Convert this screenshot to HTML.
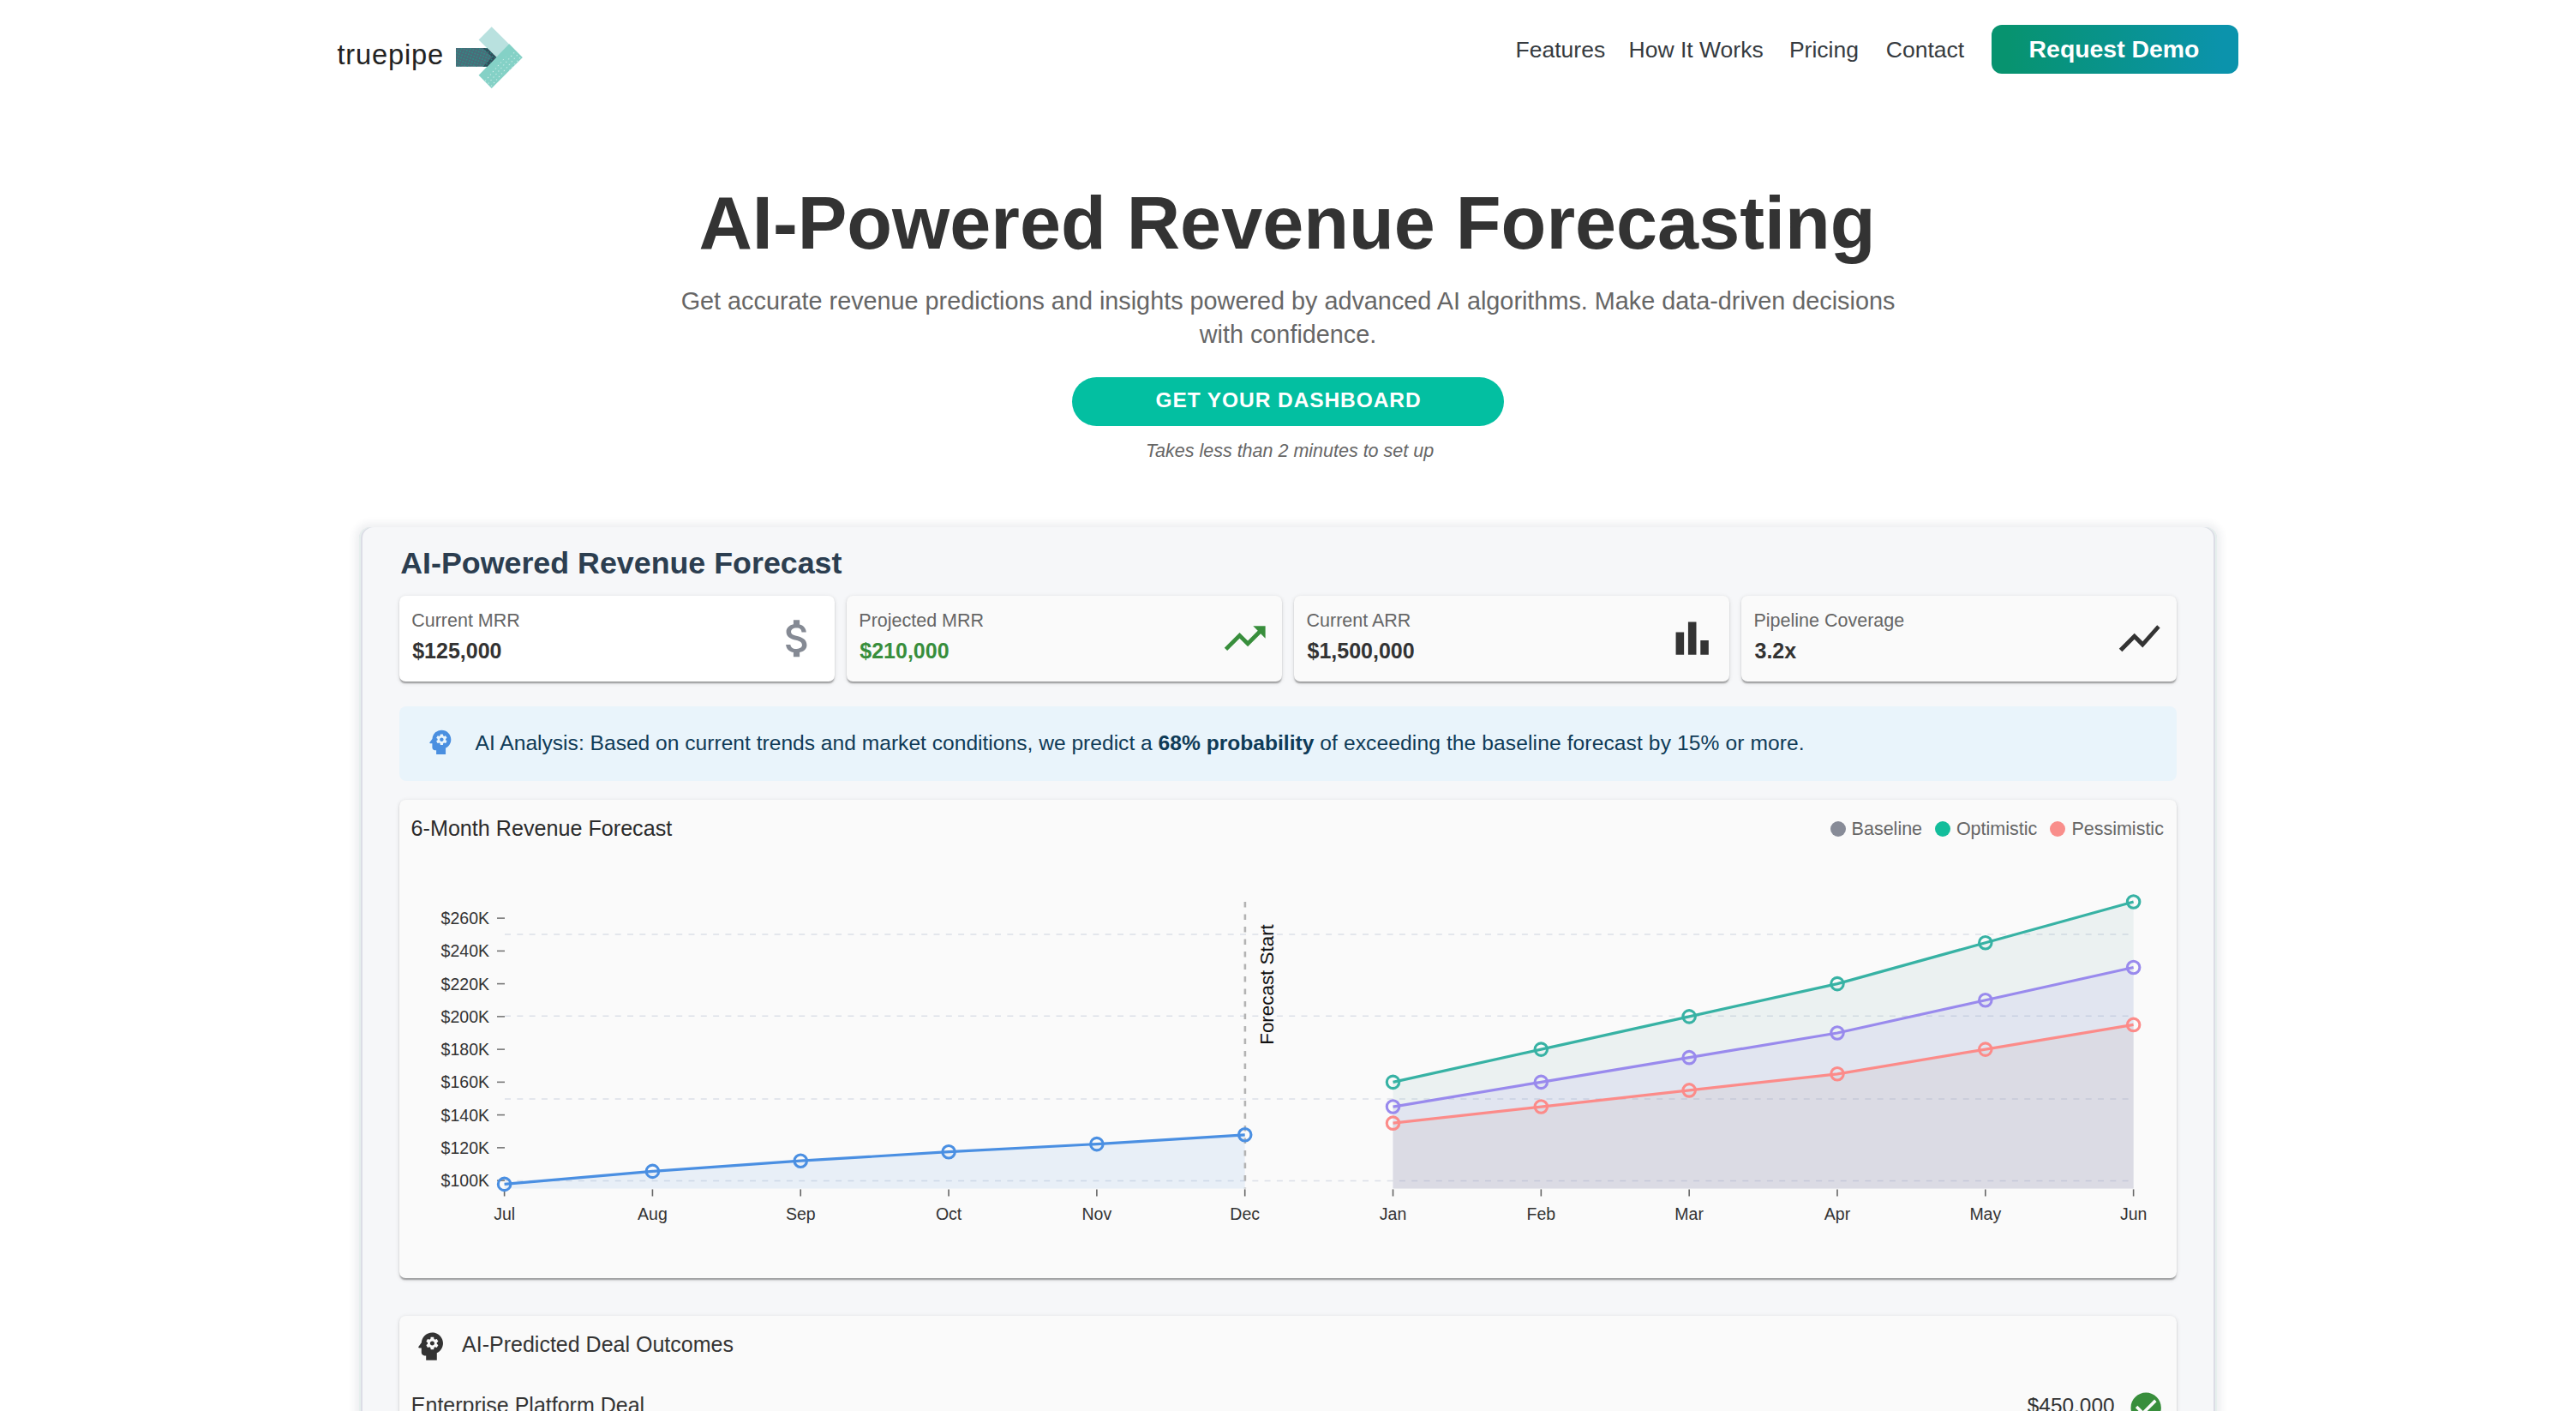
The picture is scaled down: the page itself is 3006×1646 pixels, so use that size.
<!DOCTYPE html>
<html><head><meta charset="utf-8"><title>truepipe - AI-Powered Revenue Forecasting</title>
<style>
html,body{margin:0;padding:0;}
body{width:3006px;height:1646px;overflow:hidden;position:relative;background:#fff;font-family:"Liberation Sans",sans-serif;}
.t{position:absolute;white-space:nowrap;}
.r{position:absolute;box-sizing:border-box;}
.abs{position:absolute;overflow:visible;}
svg text{font-family:"Liberation Sans",sans-serif;}
@media (max-width:1600px){html{zoom:0.5;}}
</style></head><body>
<div class="t" style="left:393.40px;top:47.72px;font-size:32.7px;line-height:32.7px;color:#222;letter-spacing:0.8px;">truepipe</div>
<svg class="abs" style="left:0;top:0" width="640" height="120" viewBox="0 0 640 120">
<polygon points="558.6,46.5 573.7,31.2 609.7,66.9 594.6,82.1" fill="#b9e1df"/>
<polygon points="558.6,87.7 573.7,102.9 609.7,66.9 594.2,51.2" fill="#84d1c6"/>
<polygon points="532,56 568.4,56 579.3,66.7 568.5,77.8 532,77.8" fill="#4a6c79"/>
<polygon points="563.5,56 568.4,56 579.3,66.7 568.5,77.8 563.5,77.8 574.3,66.7" fill="#314c5a"/>
<defs><pattern id="pd" width="3.4" height="3.4" patternUnits="userSpaceOnUse" patternTransform="rotate(20)"><circle cx="1.7" cy="1.7" r="0.75" fill="#1f9e8c"/></pattern>
<pattern id="pw" width="4.6" height="4.6" patternUnits="userSpaceOnUse" patternTransform="rotate(40)"><circle cx="2.3" cy="2.3" r="0.6" fill="#fff" fill-opacity="0.75"/></pattern></defs>
<polygon points="532,56 568.4,56 579.3,66.7 568.5,77.8 532,77.8" fill="url(#pd)"/>
<polygon points="566,96 573.7,102.9 609.7,66.9 601,58.5 578,76 566,90" fill="url(#pw)"/>
</svg>
<div class="t" style="left:1768.60px;top:44.97px;font-size:26.5px;line-height:26.5px;color:#363b40;">Features</div>
<div class="t" style="left:1900.60px;top:44.97px;font-size:26.5px;line-height:26.5px;color:#363b40;">How It Works</div>
<div class="t" style="left:2087.90px;top:44.97px;font-size:26.5px;line-height:26.5px;color:#363b40;">Pricing</div>
<div class="t" style="left:2200.80px;top:44.97px;font-size:26.5px;line-height:26.5px;color:#363b40;">Contact</div>
<div class="r" style="left:2324.00px;top:29.00px;width:288.00px;height:56.60px;border-radius:12px;background:linear-gradient(90deg,#07936f 6%,#0b93ac 94%);"></div>
<div class="t" style="left:2367.60px;top:43.16px;font-size:28.4px;line-height:28.4px;color:#fff;font-weight:bold;">Request Demo</div>
<div class="t" style="left:0.00px;top:216.76px;font-size:86.4px;line-height:86.4px;color:#333;font-weight:bold;text-align:center;width:3006px;left:-1px;">AI-Powered Revenue Forecasting</div>
<div class="t" style="left:0.00px;top:337.32px;font-size:28.8px;line-height:28.8px;color:#666;text-align:center;width:3006px;">Get accurate revenue predictions and insights powered by advanced AI algorithms. Make data-driven decisions</div>
<div class="t" style="left:0.00px;top:375.52px;font-size:28.8px;line-height:28.8px;color:#666;text-align:center;width:3006px;">with confidence.</div>
<div class="r" style="left:1250.90px;top:439.90px;width:503.90px;height:56.90px;border-radius:30px;background:#03bfa1;"></div>
<div class="t" style="left:0.00px;top:455.46px;font-size:24.5px;line-height:24.5px;color:#fff;font-weight:bold;letter-spacing:0.92px;text-align:center;width:3006px;left:0.5px;">GET YOUR DASHBOARD</div>
<div class="t" style="left:0.00px;top:515.90px;font-size:21.5px;line-height:21.5px;color:#666;font-style:italic;text-align:center;width:3006px;left:2px;">Takes less than 2 minutes to set up</div>
<div class="r" style="left:419.00px;top:615.00px;width:2168.00px;height:1085.00px;border-radius:13px;background:#f6f7f9;box-shadow:inset 2px 0 0 #e6efed,inset -2px 0 0 #e6efed,inset 4px 0 0 #dcdde6,inset -4px 0 0 #dcdde6,0 0 8px 5px rgba(40,50,80,0.075);"></div>
<div class="t" style="left:467.20px;top:639.70px;font-size:35.8px;line-height:35.8px;color:#2c3e50;font-weight:bold;">AI-Powered Revenue Forecast</div>
<div class="r" style="left:465.70px;top:694.80px;width:508.30px;height:100.20px;border-radius:7.2px;background:#fff;box-shadow:0 3.6px 1.8px -1.8px rgba(0,0,0,0.2),0 1.8px 1.8px 0 rgba(0,0,0,0.14),0 1.8px 5.4px 0 rgba(0,0,0,0.12);"></div>
<div class="t" style="left:480.20px;top:713.80px;font-size:21.5px;line-height:21.5px;color:#666;">Current MRR</div>
<div class="t" style="left:481.20px;top:747.14px;font-size:25px;line-height:25px;color:#333;font-weight:bold;">$125,000</div>
<div class="r" style="left:987.80px;top:694.80px;width:508.20px;height:100.20px;border-radius:7.2px;background:#fafafa;box-shadow:0 3.6px 1.8px -1.8px rgba(0,0,0,0.2),0 1.8px 1.8px 0 rgba(0,0,0,0.14),0 1.8px 5.4px 0 rgba(0,0,0,0.12);"></div>
<div class="t" style="left:1002.30px;top:713.80px;font-size:21.5px;line-height:21.5px;color:#666;">Projected MRR</div>
<div class="t" style="left:1003.30px;top:747.14px;font-size:25px;line-height:25px;color:#388e3c;font-weight:bold;">$210,000</div>
<div class="r" style="left:1510.00px;top:694.80px;width:508.00px;height:100.20px;border-radius:7.2px;background:#fafafa;box-shadow:0 3.6px 1.8px -1.8px rgba(0,0,0,0.2),0 1.8px 1.8px 0 rgba(0,0,0,0.14),0 1.8px 5.4px 0 rgba(0,0,0,0.12);"></div>
<div class="t" style="left:1524.50px;top:713.80px;font-size:21.5px;line-height:21.5px;color:#666;">Current ARR</div>
<div class="t" style="left:1525.50px;top:747.14px;font-size:25px;line-height:25px;color:#333;font-weight:bold;">$1,500,000</div>
<div class="r" style="left:2032.00px;top:694.80px;width:508.00px;height:100.20px;border-radius:7.2px;background:#fafafa;box-shadow:0 3.6px 1.8px -1.8px rgba(0,0,0,0.2),0 1.8px 1.8px 0 rgba(0,0,0,0.14),0 1.8px 5.4px 0 rgba(0,0,0,0.12);"></div>
<div class="t" style="left:2046.50px;top:713.80px;font-size:21.5px;line-height:21.5px;color:#666;">Pipeline Coverage</div>
<div class="t" style="left:2047.50px;top:747.14px;font-size:25px;line-height:25px;color:#333;font-weight:bold;">3.2x</div>
<svg class="abs" style="left:901.99px;top:716.00px" width="57.41" height="57.41" viewBox="0 0 24 24"><path fill="#858a94" d="M11.8 10.9c-2.27-.59-3-1.2-3-2.15 0-1.09 1.01-1.85 2.7-1.85 1.78 0 2.44.85 2.5 2.1h2.21c-.07-1.72-1.12-3.3-3.21-3.81V3h-3v2.16c-1.94.42-3.5 1.68-3.5 3.61 0 2.31 1.91 3.46 4.7 4.13 2.5.6 3 1.48 3 2.41 0 .69-.49 1.79-2.7 1.79-2.06 0-2.87-.92-2.98-2.1h-2.2c.12 2.19 1.76 3.42 3.68 3.83V21h3v-2.15c1.95-.37 3.5-1.5 3.5-3.55 0-2.84-2.43-3.81-4.7-4.4z"/></svg>
<svg class="abs" style="left:1423.99px;top:716.00px" width="57.41" height="57.41" viewBox="0 0 24 24"><path fill="#388e3c" d="m16 6 2.29 2.29-4.88 4.88-4-4L2 16.59 3.41 18l6-6 4 4 6.3-6.29L22 12V6z"/></svg>
<svg class="abs" style="left:1945.99px;top:716.00px" width="57.41" height="57.41" viewBox="0 0 24 24"><path fill="#333" d="M4 9h4v11H4zm12 4h4v7h-4zm-6-9h4v16h-4z"/></svg>
<svg class="abs" style="left:2467.99px;top:716.00px" width="57.41" height="57.41" viewBox="0 0 24 24"><path fill="#333" d="M3.5 18.49l6-6.01 4 4L22 6.92l-1.41-1.41-7.09 7.97-4-4L2 16.99z"/></svg>
<div class="r" style="left:466.00px;top:824.00px;width:2074.00px;height:86.70px;border-radius:8px;background:#e9f4fb;"></div>
<svg class="abs" style="left:494.70px;top:846.60px" width="37.60" height="37.60" viewBox="0 0 24 24"><path fill="#4a8fe0" d="M13 8.57c-.79 0-1.43.64-1.43 1.43s.64 1.43 1.43 1.43 1.43-.64 1.43-1.43-.64-1.43-1.43-1.43zM13 3C9.25 3 6.2 5.94 6.02 9.64L4.1 12.2c-.25.33-.01.8.4.8H6v3c0 1.1.9 2 2 2h1v3h7v-4.68c2.36-1.12 4-3.53 4-6.32 0-3.87-3.13-7-7-7zm3 7c0 .13-.01.26-.02.39l.83.66c.08.06.1.16.05.25l-.8 1.39c-.05.09-.16.12-.24.09l-.99-.4c-.21.16-.43.29-.67.39L14 13.83c-.01.1-.1.17-.2.17h-1.6c-.1 0-.18-.07-.2-.17l-.15-1.06c-.25-.1-.47-.23-.68-.39l-.99.4c-.09.03-.2 0-.25-.09l-.8-1.39c-.05-.08-.03-.19.05-.25l.84-.66c-.01-.13-.02-.26-.02-.39s.02-.27.04-.39l-.85-.66c-.08-.06-.1-.16-.05-.26l.8-1.38c.05-.09.15-.12.24-.09l1 .4c.2-.15.43-.29.67-.39L12 6.17c.02-.1.1-.17.2-.17h1.6c.1 0 .18.07.2.17l.15 1.06c.24.1.46.23.67.39l1-.4c.09-.03.2 0 .24.09l.8 1.38c.05.09.03.2-.05.26l-.85.66c.03.12.04.25.04.39z"/></svg>
<div class="t" style="left:554.60px;top:855.18px;font-size:24.6px;line-height:24.6px;color:#0f3b57;">AI Analysis: Based on current trends and market conditions, we predict a <b>68% probability</b><span style='letter-spacing:0.1px'> of exceeding the baseline forecast by 15% or more.</span></div>
<div class="r" style="left:466.00px;top:933.00px;width:2074.00px;height:557.80px;border-radius:7.2px;background:#fafafa;box-shadow:0 3.6px 1.8px -1.8px rgba(0,0,0,0.2),0 1.8px 1.8px 0 rgba(0,0,0,0.14),0 1.8px 5.4px 0 rgba(0,0,0,0.12);"></div>
<div class="t" style="left:479.60px;top:953.81px;font-size:25.15px;line-height:25.15px;color:#2b2b2b;">6-Month Revenue Forecast</div>
<div class="r" style="left:2136.00px;top:957.90px;width:18.00px;height:18.00px;border-radius:50%;background:#878b97;"></div>
<div class="t" style="left:2160.60px;top:957.10px;font-size:21.5px;line-height:21.5px;color:#666;">Baseline</div>
<div class="r" style="left:2258.00px;top:957.90px;width:18.00px;height:18.00px;border-radius:50%;background:#12bd9b;"></div>
<div class="t" style="left:2282.90px;top:957.10px;font-size:21.5px;line-height:21.5px;color:#666;">Optimistic</div>
<div class="r" style="left:2392.00px;top:957.90px;width:18.00px;height:18.00px;border-radius:50%;background:#f98e8b;"></div>
<div class="t" style="left:2417.40px;top:957.10px;font-size:21.5px;line-height:21.5px;color:#666;">Pessimistic</div>
<div class="r" style="left:466.00px;top:1535.30px;width:2074.00px;height:164.70px;border-radius:7.2px;background:#fafafa;box-shadow:0 3.6px 1.8px -1.8px rgba(0,0,0,0.2),0 1.8px 1.8px 0 rgba(0,0,0,0.14),0 1.8px 5.4px 0 rgba(0,0,0,0.12);"></div>
<svg class="abs" style="left:481.00px;top:1549.00px" width="43.20" height="43.20" viewBox="0 0 24 24"><path fill="#333" d="M13 8.57c-.79 0-1.43.64-1.43 1.43s.64 1.43 1.43 1.43 1.43-.64 1.43-1.43-.64-1.43-1.43-1.43zM13 3C9.25 3 6.2 5.94 6.02 9.64L4.1 12.2c-.25.33-.01.8.4.8H6v3c0 1.1.9 2 2 2h1v3h7v-4.68c2.36-1.12 4-3.53 4-6.32 0-3.87-3.13-7-7-7zm3 7c0 .13-.01.26-.02.39l.83.66c.08.06.1.16.05.25l-.8 1.39c-.05.09-.16.12-.24.09l-.99-.4c-.21.16-.43.29-.67.39L14 13.83c-.01.1-.1.17-.2.17h-1.6c-.1 0-.18-.07-.2-.17l-.15-1.06c-.25-.1-.47-.23-.68-.39l-.99.4c-.09.03-.2 0-.25-.09l-.8-1.39c-.05-.08-.03-.19.05-.25l.84-.66c-.01-.13-.02-.26-.02-.39s.02-.27.04-.39l-.85-.66c-.08-.06-.1-.16-.05-.26l.8-1.38c.05-.09.15-.12.24-.09l1 .4c.2-.15.43-.29.67-.39L12 6.17c.02-.1.1-.17.2-.17h1.6c.1 0 .18.07.2.17l.15 1.06c.24.1.46.23.67.39l1-.4c.09-.03.2 0 .24.09l.8 1.38c.05.09.03.2-.05.26l-.85.66c.03.12.04.25.04.39z"/></svg>
<div class="t" style="left:539.10px;top:1556.44px;font-size:25px;line-height:25px;color:#333;">AI-Predicted Deal Outcomes</div>
<div class="t" style="left:479.80px;top:1627.34px;font-size:25px;line-height:25px;color:#333;">Enterprise Platform Deal</div>
<div class="t" style="left:2365.80px;top:1627.85px;font-size:24.4px;line-height:24.4px;color:#333;">$450,000</div>
<svg class="abs" style="left:2482.50px;top:1621.10px" width="42.40" height="42.40" viewBox="0 0 24 24"><path fill="#388e3c" d="M12 2C6.48 2 2 6.48 2 12s4.48 10 10 10 10-4.48 10-10S17.52 2 12 2zm-2 15-5-5 1.41-1.41L10 14.17l7.59-7.59L19 8l-9 9z"/></svg>
<svg class="abs" style="left:0;top:0" width="3006" height="1646" viewBox="0 0 3006 1646">
<line x1="589" y1="1090" x2="2490" y2="1090" stroke="#dce0e8" stroke-width="1.5" stroke-dasharray="7 7.3"/>
<line x1="589" y1="1185.3" x2="2490" y2="1185.3" stroke="#dce0e8" stroke-width="1.5" stroke-dasharray="7 7.3"/>
<line x1="589" y1="1281.9" x2="2490" y2="1281.9" stroke="#dce0e8" stroke-width="1.5" stroke-dasharray="7 7.3"/>
<line x1="589" y1="1377.4" x2="2490" y2="1377.4" stroke="#dce0e8" stroke-width="1.5" stroke-dasharray="7 7.3"/>
<line x1="580" y1="1377.11" x2="589" y2="1377.11" stroke="#777" stroke-width="1.6"/>
<text x="571" y="1384.01" text-anchor="end" font-size="19.5" fill="#333">$100K</text>
<line x1="580" y1="1338.86" x2="589" y2="1338.86" stroke="#777" stroke-width="1.6"/>
<text x="571" y="1345.76" text-anchor="end" font-size="19.5" fill="#333">$120K</text>
<line x1="580" y1="1300.61" x2="589" y2="1300.61" stroke="#777" stroke-width="1.6"/>
<text x="571" y="1307.51" text-anchor="end" font-size="19.5" fill="#333">$140K</text>
<line x1="580" y1="1262.36" x2="589" y2="1262.36" stroke="#777" stroke-width="1.6"/>
<text x="571" y="1269.26" text-anchor="end" font-size="19.5" fill="#333">$160K</text>
<line x1="580" y1="1224.11" x2="589" y2="1224.11" stroke="#777" stroke-width="1.6"/>
<text x="571" y="1231.01" text-anchor="end" font-size="19.5" fill="#333">$180K</text>
<line x1="580" y1="1185.86" x2="589" y2="1185.86" stroke="#777" stroke-width="1.6"/>
<text x="571" y="1192.76" text-anchor="end" font-size="19.5" fill="#333">$200K</text>
<line x1="580" y1="1147.61" x2="589" y2="1147.61" stroke="#777" stroke-width="1.6"/>
<text x="571" y="1154.51" text-anchor="end" font-size="19.5" fill="#333">$220K</text>
<line x1="580" y1="1109.36" x2="589" y2="1109.36" stroke="#777" stroke-width="1.6"/>
<text x="571" y="1116.26" text-anchor="end" font-size="19.5" fill="#333">$240K</text>
<line x1="580" y1="1071.11" x2="589" y2="1071.11" stroke="#777" stroke-width="1.6"/>
<text x="571" y="1078.01" text-anchor="end" font-size="19.5" fill="#333">$260K</text>
<line x1="588.60" y1="1387.4" x2="588.60" y2="1395.5" stroke="#666" stroke-width="1.6"/>
<text x="588.60" y="1423" text-anchor="middle" font-size="19.5" fill="#333">Jul</text>
<line x1="761.42" y1="1387.4" x2="761.42" y2="1395.5" stroke="#666" stroke-width="1.6"/>
<text x="761.42" y="1423" text-anchor="middle" font-size="19.5" fill="#333">Aug</text>
<line x1="934.24" y1="1387.4" x2="934.24" y2="1395.5" stroke="#666" stroke-width="1.6"/>
<text x="934.24" y="1423" text-anchor="middle" font-size="19.5" fill="#333">Sep</text>
<line x1="1107.06" y1="1387.4" x2="1107.06" y2="1395.5" stroke="#666" stroke-width="1.6"/>
<text x="1107.06" y="1423" text-anchor="middle" font-size="19.5" fill="#333">Oct</text>
<line x1="1279.88" y1="1387.4" x2="1279.88" y2="1395.5" stroke="#666" stroke-width="1.6"/>
<text x="1279.88" y="1423" text-anchor="middle" font-size="19.5" fill="#333">Nov</text>
<line x1="1452.70" y1="1387.4" x2="1452.70" y2="1395.5" stroke="#666" stroke-width="1.6"/>
<text x="1452.70" y="1423" text-anchor="middle" font-size="19.5" fill="#333">Dec</text>
<line x1="1625.52" y1="1387.4" x2="1625.52" y2="1395.5" stroke="#666" stroke-width="1.6"/>
<text x="1625.52" y="1423" text-anchor="middle" font-size="19.5" fill="#333">Jan</text>
<line x1="1798.34" y1="1387.4" x2="1798.34" y2="1395.5" stroke="#666" stroke-width="1.6"/>
<text x="1798.34" y="1423" text-anchor="middle" font-size="19.5" fill="#333">Feb</text>
<line x1="1971.16" y1="1387.4" x2="1971.16" y2="1395.5" stroke="#666" stroke-width="1.6"/>
<text x="1971.16" y="1423" text-anchor="middle" font-size="19.5" fill="#333">Mar</text>
<line x1="2143.98" y1="1387.4" x2="2143.98" y2="1395.5" stroke="#666" stroke-width="1.6"/>
<text x="2143.98" y="1423" text-anchor="middle" font-size="19.5" fill="#333">Apr</text>
<line x1="2316.80" y1="1387.4" x2="2316.80" y2="1395.5" stroke="#666" stroke-width="1.6"/>
<text x="2316.80" y="1423" text-anchor="middle" font-size="19.5" fill="#333">May</text>
<line x1="2489.62" y1="1387.4" x2="2489.62" y2="1395.5" stroke="#666" stroke-width="1.6"/>
<text x="2489.62" y="1423" text-anchor="middle" font-size="19.5" fill="#333">Jun</text>
<polygon points="588.60,1386.6 588.60,1381.40 761.42,1366.40 934.24,1354.20 1107.06,1343.70 1279.88,1334.60 1452.70,1323.80 1452.70,1386.6" fill="#4a90e2" fill-opacity="0.1"/>
<polygon points="1625.52,1386.6 1625.52,1262.36 1798.34,1224.11 1971.16,1185.86 2143.98,1147.61 2316.80,1099.80 2489.62,1051.98 2489.62,1386.6" fill="#6aa5a5" fill-opacity="0.1"/>
<polygon points="1625.52,1386.6 1625.52,1291.05 1798.34,1262.36 1971.16,1233.67 2143.98,1204.98 2316.80,1166.73 2489.62,1128.48 2489.62,1386.6" fill="#9386ef" fill-opacity="0.11"/>
<polygon points="1625.52,1386.6 1625.52,1310.17 1798.34,1291.05 1971.16,1271.92 2143.98,1252.80 2316.80,1224.11 2489.62,1195.42 2489.62,1386.6" fill="#b79294" fill-opacity="0.12"/>
<line x1="1452.9" y1="1052" x2="1452.9" y2="1386.6" stroke="#b3b3b3" stroke-width="2.6" stroke-dasharray="6.5 8"/>
<text transform="translate(1486,1218.8) rotate(-90)" font-size="22.4" fill="#111">Forecast Start</text>
<polyline points="588.60,1381.40 761.42,1366.40 934.24,1354.20 1107.06,1343.70 1279.88,1334.60 1452.70,1323.80" fill="none" stroke="#4a8fe2" stroke-width="3.2" stroke-linejoin="round"/><circle cx="588.60" cy="1381.40" r="7.25" fill="none" stroke="#4a8fe2" stroke-width="3.1"/><circle cx="761.42" cy="1366.40" r="7.25" fill="none" stroke="#4a8fe2" stroke-width="3.1"/><circle cx="934.24" cy="1354.20" r="7.25" fill="none" stroke="#4a8fe2" stroke-width="3.1"/><circle cx="1107.06" cy="1343.70" r="7.25" fill="none" stroke="#4a8fe2" stroke-width="3.1"/><circle cx="1279.88" cy="1334.60" r="7.25" fill="none" stroke="#4a8fe2" stroke-width="3.1"/><circle cx="1452.70" cy="1323.80" r="7.25" fill="none" stroke="#4a8fe2" stroke-width="3.1"/>
<polyline points="1625.52,1262.36 1798.34,1224.11 1971.16,1185.86 2143.98,1147.61 2316.80,1099.80 2489.62,1051.98" fill="none" stroke="#37b2a4" stroke-width="3.2" stroke-linejoin="round"/><circle cx="1625.52" cy="1262.36" r="7.25" fill="none" stroke="#37b2a4" stroke-width="3.1"/><circle cx="1798.34" cy="1224.11" r="7.25" fill="none" stroke="#37b2a4" stroke-width="3.1"/><circle cx="1971.16" cy="1185.86" r="7.25" fill="none" stroke="#37b2a4" stroke-width="3.1"/><circle cx="2143.98" cy="1147.61" r="7.25" fill="none" stroke="#37b2a4" stroke-width="3.1"/><circle cx="2316.80" cy="1099.80" r="7.25" fill="none" stroke="#37b2a4" stroke-width="3.1"/><circle cx="2489.62" cy="1051.98" r="7.25" fill="none" stroke="#37b2a4" stroke-width="3.1"/>
<polyline points="1625.52,1291.05 1798.34,1262.36 1971.16,1233.67 2143.98,1204.98 2316.80,1166.73 2489.62,1128.48" fill="none" stroke="#998aed" stroke-width="3.2" stroke-linejoin="round"/><circle cx="1625.52" cy="1291.05" r="7.25" fill="none" stroke="#998aed" stroke-width="3.1"/><circle cx="1798.34" cy="1262.36" r="7.25" fill="none" stroke="#998aed" stroke-width="3.1"/><circle cx="1971.16" cy="1233.67" r="7.25" fill="none" stroke="#998aed" stroke-width="3.1"/><circle cx="2143.98" cy="1204.98" r="7.25" fill="none" stroke="#998aed" stroke-width="3.1"/><circle cx="2316.80" cy="1166.73" r="7.25" fill="none" stroke="#998aed" stroke-width="3.1"/><circle cx="2489.62" cy="1128.48" r="7.25" fill="none" stroke="#998aed" stroke-width="3.1"/>
<polyline points="1625.52,1310.17 1798.34,1291.05 1971.16,1271.92 2143.98,1252.80 2316.80,1224.11 2489.62,1195.42" fill="none" stroke="#fc8b89" stroke-width="3.2" stroke-linejoin="round"/><circle cx="1625.52" cy="1310.17" r="7.25" fill="none" stroke="#fc8b89" stroke-width="3.1"/><circle cx="1798.34" cy="1291.05" r="7.25" fill="none" stroke="#fc8b89" stroke-width="3.1"/><circle cx="1971.16" cy="1271.92" r="7.25" fill="none" stroke="#fc8b89" stroke-width="3.1"/><circle cx="2143.98" cy="1252.80" r="7.25" fill="none" stroke="#fc8b89" stroke-width="3.1"/><circle cx="2316.80" cy="1224.11" r="7.25" fill="none" stroke="#fc8b89" stroke-width="3.1"/><circle cx="2489.62" cy="1195.42" r="7.25" fill="none" stroke="#fc8b89" stroke-width="3.1"/>
</svg>
</body></html>
